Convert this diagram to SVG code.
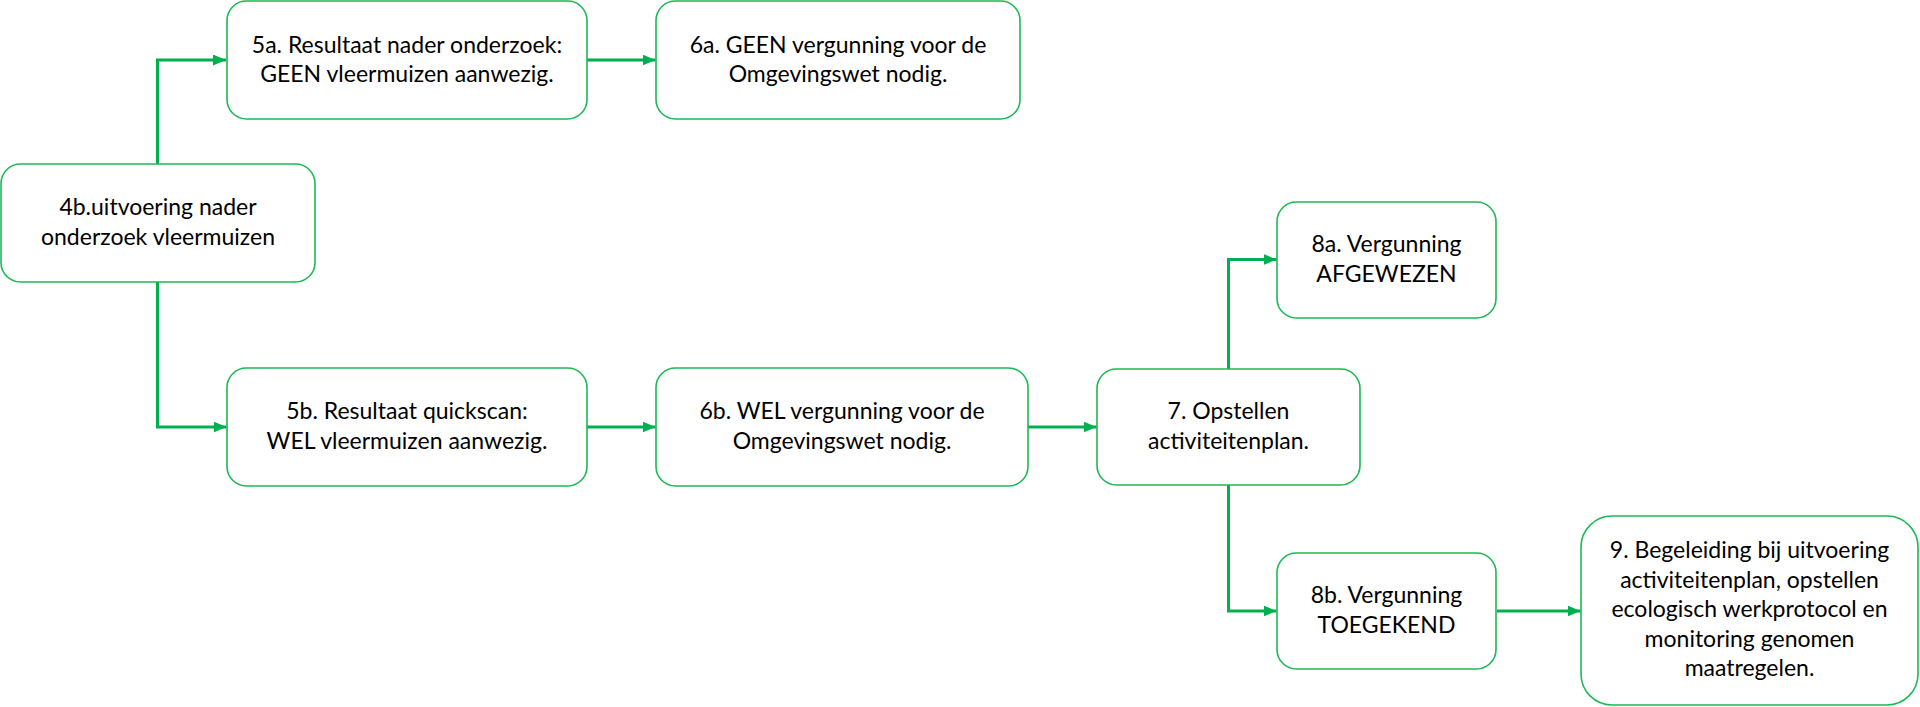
<svg xmlns="http://www.w3.org/2000/svg" width="1920" height="707" viewBox="0 0 1920 707">
  <style>
    .box { fill: #ffffff; stroke: #1DB954; stroke-width: 1.6; }
    .lbl { font-family: Lato, "Liberation Sans", sans-serif; font-size: 23px; fill: #000000; text-anchor: middle; }
    .conn { fill: none; stroke: #00B050; stroke-width: 3; }
  </style>
  <defs>
    <marker id="arrow" markerUnits="userSpaceOnUse" markerWidth="13" markerHeight="11" viewBox="0 0 13 11" refX="13" refY="5.5" orient="auto">
      <path d="M0,0 L13,5.5 L0,11 z" fill="#00B050"/>
    </marker>
  </defs>
  <rect width="1920" height="707" fill="#ffffff"/>

  <g id="connectors">
    <path class="conn" d="M157.5,164 V60 H226" marker-end="url(#arrow)"/>
    <path class="conn" d="M157.5,282 V427 H226.5" marker-end="url(#arrow)"/>
    <path class="conn" d="M587,60 H655.5" marker-end="url(#arrow)"/>
    <path class="conn" d="M587,427 H655.5" marker-end="url(#arrow)"/>
    <path class="conn" d="M1028,427 H1096.5" marker-end="url(#arrow)"/>
    <path class="conn" d="M1228.5,369 V259.5 H1276.5" marker-end="url(#arrow)"/>
    <path class="conn" d="M1228.5,485 V611 H1276.5" marker-end="url(#arrow)"/>
    <path class="conn" d="M1497,611 H1580.5" marker-end="url(#arrow)"/>
  </g>

  <g id="node-4b">
    <rect class="box" x="1" y="164" width="314" height="118" rx="19.5"/>
    <text class="lbl" x="158" y="215">4b.uitvoering nader</text>
    <text class="lbl" x="158" y="244.5">onderzoek vleermuizen</text>
  </g>

  <g id="node-5a">
    <rect class="box" x="227" y="1" width="360" height="118" rx="19.5"/>
    <text class="lbl" x="407" y="52.5">5a. Resultaat nader onderzoek:</text>
    <text class="lbl" x="407" y="82">GEEN vleermuizen aanwezig.</text>
  </g>

  <g id="node-6a">
    <rect class="box" x="656" y="1" width="364" height="118" rx="19.5"/>
    <text class="lbl" x="838" y="52.5">6a. GEEN vergunning voor de</text>
    <text class="lbl" x="838" y="82">Omgevingswet nodig.</text>
  </g>

  <g id="node-5b">
    <rect class="box" x="227" y="368" width="360" height="118" rx="19.5"/>
    <text class="lbl" x="407" y="419">5b. Resultaat quickscan:</text>
    <text class="lbl" x="407" y="448.5">WEL vleermuizen aanwezig.</text>
  </g>

  <g id="node-6b">
    <rect class="box" x="656" y="368" width="372" height="118" rx="19.5"/>
    <text class="lbl" x="842" y="419">6b. WEL vergunning voor de</text>
    <text class="lbl" x="842" y="448.5">Omgevingswet nodig.</text>
  </g>

  <g id="node-7">
    <rect class="box" x="1097" y="369" width="263" height="116" rx="19.5"/>
    <text class="lbl" x="1228.5" y="419">7. Opstellen</text>
    <text class="lbl" x="1228.5" y="448.5">activiteitenplan.</text>
  </g>

  <g id="node-8a">
    <rect class="box" x="1277" y="202" width="219" height="116" rx="19.5"/>
    <text class="lbl" x="1386.5" y="252">8a. Vergunning</text>
    <text class="lbl" x="1386.5" y="281.5">AFGEWEZEN</text>
  </g>

  <g id="node-8b">
    <rect class="box" x="1277" y="553" width="219" height="116" rx="19.5"/>
    <text class="lbl" x="1386.5" y="603">8b. Vergunning</text>
    <text class="lbl" x="1386.5" y="632.5">TOEGEKEND</text>
  </g>

  <g id="node-9">
    <rect class="box" x="1581" y="516" width="337" height="189" rx="31"/>
    <text class="lbl" x="1749.5" y="558">9. Begeleiding bij uitvoering</text>
    <text class="lbl" x="1749.5" y="587.5">activiteitenplan, opstellen</text>
    <text class="lbl" x="1749.5" y="617">ecologisch werkprotocol en</text>
    <text class="lbl" x="1749.5" y="646.5">monitoring genomen</text>
    <text class="lbl" x="1749.5" y="676">maatregelen.</text>
  </g>
</svg>
